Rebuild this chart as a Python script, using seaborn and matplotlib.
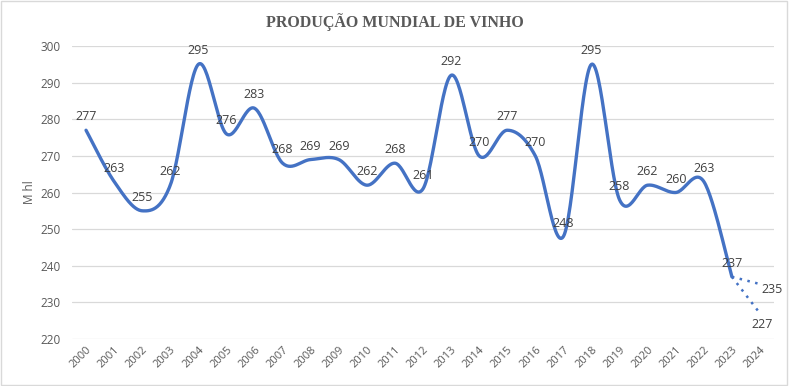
import numpy as np
import pandas as pd
import matplotlib.pyplot as plt
import seaborn as sns
from matplotlib.patches import Rectangle

years = [str(y) for y in range(2000, 2025)]
producao = [277, 263, 255, 262, 295, 276, 283, 268, 269, 269, 262, 268, 261,
            292, 270, 277, 270, 248, 295, 258, 262, 260, 263, 237]
cenario_alto = [237, 235]
cenario_baixo = [237, 227]
titulo = "PRODUÇÃO MUNDIAL DE VINHO"

LINE = "#4472C4"
GREY = "#595959"
TXT = "#404040"


def smooth(xs, ys, ky, n=30):
    # curva suavizada estilo Excel (Bezier / Catmull-Rom)
    p = np.column_stack([xs, np.asarray(ys, float) * ky])
    p = np.vstack([p[0], p, p[-1]])
    out = []
    for i in range(1, len(p) - 2):
        p0, p1, p2, p3 = p[i - 1], p[i], p[i + 1], p[i + 2]
        c1 = p1 + (p2 - p0) / 6
        c2 = p2 - (p3 - p1) / 6
        t = np.linspace(0, 1, n)[:, None]
        seg = (1 - t) ** 3 * p1 + 3 * (1 - t) ** 2 * t * c1 + 3 * (1 - t) * t ** 2 * c2 + t ** 3 * p2
        out.append(seg if i == 1 else seg[1:])
    out = np.vstack(out)
    return out[:, 0], out[:, 1] / ky


sns.set_theme(style="white")
plt.rcParams['font.family'] = ['Open Sans', 'DejaVu Sans']

fig = plt.figure(figsize=(7.89, 3.86), dpi=100)
ax = fig.add_axes([72 / 789, 1 - 339 / 386, (774 - 72) / 789, (339 - 46) / 386])

x = np.arange(len(producao))
# escala y em pixels ~ 3.66 px / unidade, x ~ 28 px / ano
sx, sy = smooth(x, producao, 3.66 / 28)
df = pd.DataFrame({"x": sx, "y": sy})
sns.lineplot(data=df, x="x", y="y", sort=False, color=LINE, linewidth=2.4, ax=ax)

xe = [len(producao) - 1, len(producao)]
ax.plot(xe, cenario_alto, color=LINE, linewidth=1.8, linestyle=(0, (1, 2.2)))
ax.plot(xe, cenario_baixo, color=LINE, linewidth=1.8, linestyle=(0, (1, 2.2)))

for i, v in enumerate(producao):
    ax.annotate(str(v), (i, v), xytext=(0, 5), textcoords="offset points",
                ha="center", va="bottom", fontsize=9, color=TXT)
ax.annotate(str(cenario_alto[1]), (xe[1], cenario_alto[1]), xytext=(1, -4),
            textcoords="offset points", ha="left", va="center", fontsize=9, color=TXT)
ax.annotate(str(cenario_baixo[1]), (xe[1], cenario_baixo[1]), xytext=(-6, -3),
            textcoords="offset points", ha="left", va="top", fontsize=9, color=TXT)

ax.set_xlim(-0.5, len(years) - 0.5)
ax.set_ylim(220, 300)
ax.set_yticks(range(220, 301, 10))
ax.set_xticks(range(len(years)))
ax.set_xticklabels(years, rotation=45, ha="right", rotation_mode="anchor")
ax.tick_params(axis="x", labelsize=8, colors=GREY, length=0, pad=4)
ax.tick_params(axis="y", labelsize=8.5, colors=GREY, length=0, pad=8)
ax.grid(axis="y", color="#D9D9D9", linewidth=0.9)
ax.set_axisbelow(True)
for s in ax.spines.values():
    s.set_visible(False)
ax.set_xlabel("")
ax.set_ylabel("M hl", fontsize=8.5, color=GREY, labelpad=3)

fig.text(395 / 789, 1 - 22 / 386, titulo, ha="center", va="center",
         fontsize=11.5, fontweight="bold", color=GREY, family=["Liberation Serif"])
fig.patches.append(Rectangle((0.001, 0.002), 0.997, 0.995, transform=fig.transFigure,
                             fill=False, edgecolor="#D9D9D9", linewidth=1))

plt.savefig("out.png", dpi=100)
